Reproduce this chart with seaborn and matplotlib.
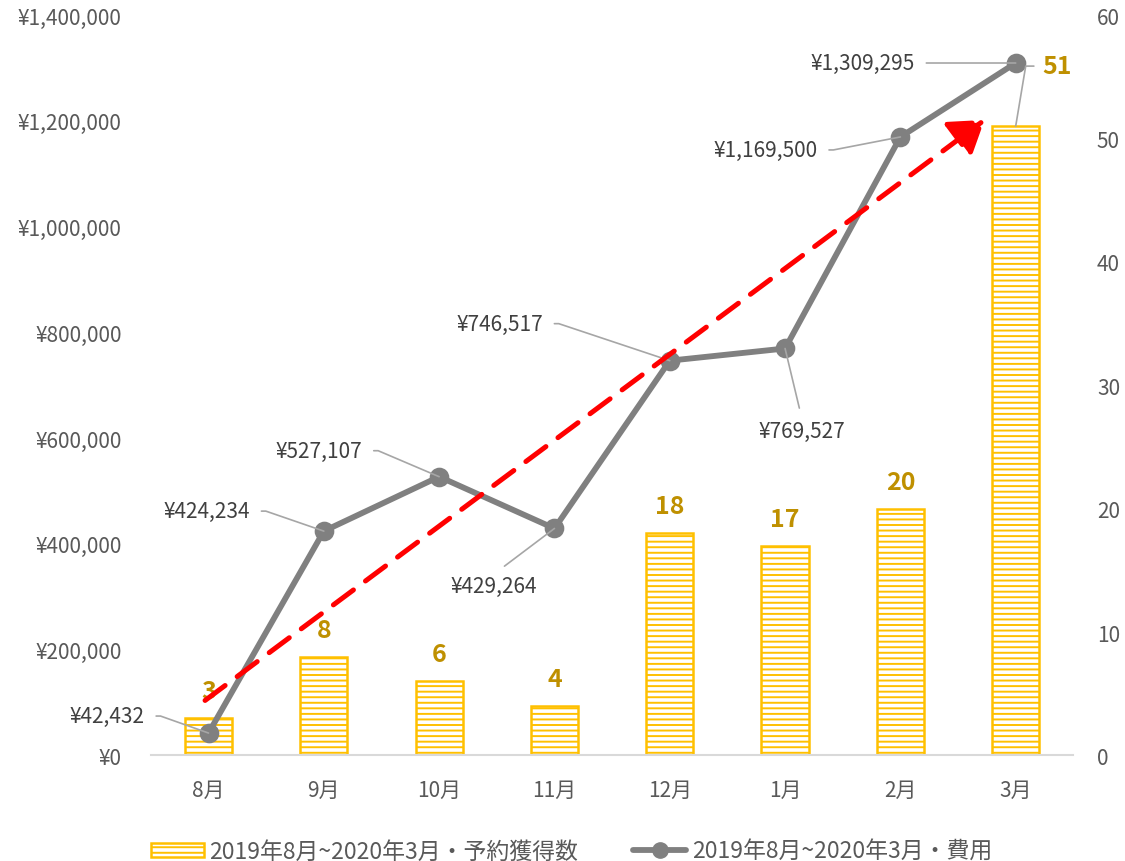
import numpy as np
import pandas as pd
import matplotlib
matplotlib.use("Agg")
import matplotlib.pyplot as plt
from matplotlib.patches import Patch
from matplotlib.lines import Line2D
import seaborn as sns

# data
months = ["8月", "9月", "10月", "11月", "12月", "1月", "2月", "3月"]
bookings = [3, 8, 6, 4, 18, 17, 20, 51]
costs = [42432, 424234, 527107, 429264, 746517, 769527, 1169500, 1309295]
bar_label = "2019年8月~2020年3月・予約獲得数"
line_label = "2019年8月~2020年3月・費用"

df = pd.DataFrame({"month": months, "bookings": bookings, "cost": costs})

sns.set_theme(style="white")
plt.rcParams["font.family"] = ["Noto Sans CJK JP", "DejaVu Sans"]
plt.rcParams["hatch.linewidth"] = 1.4

GOLD = "#FFC000"
LABEL_GOLD = "#BF9000"
GRAY = "#808080"
TEXT = "#595959"
LEADER = "#A6A6A6"
HATCH = "---"

fig = plt.figure(figsize=(11.25, 8.62), dpi=100)
ax = fig.add_axes([0.1341, 0.1224, 0.82, 0.859])
ax2 = ax.twinx()

# bars on the right axis (drawn below the line axis)
sns.barplot(data=df, x="month", y="bookings", ax=ax2, color="white",
            edgecolor=GOLD, linewidth=1.8, width=0.41, saturation=1)
for p in ax2.patches:
    p.set_hatch(HATCH)
    p.set_edgecolor(GOLD)
    p.set_facecolor("white")

# cost line on the left axis
sns.pointplot(data=df, x="month", y="cost", ax=ax, color=GRAY,
              markers="o", markersize=11, linewidth=4.2, errorbar=None)

ax.set_zorder(ax2.get_zorder() + 1)
ax.patch.set_visible(False)

ax.set_ylim(0, 1400000)
ax.set_yticks(np.arange(0, 1400001, 200000))
ax.set_yticklabels([f"¥{v:,}" for v in range(0, 1400001, 200000)])
ax2.set_ylim(0, 60)
ax2.set_yticks(range(0, 61, 10))
ax.set_xlim(-0.5, len(months) - 0.5)
ax.set_xlabel("")
ax.set_ylabel("")
ax2.set_ylabel("")

for a in (ax, ax2):
    for s in a.spines.values():
        s.set_visible(False)
    a.tick_params(length=0, labelsize=15, labelcolor=TEXT)
ax.spines["bottom"].set_visible(True)
ax.spines["bottom"].set_color("#D9D9D9")
ax.spines["bottom"].set_linewidth(1.5)
ax.tick_params(axis="y", pad=21)
ax.tick_params(axis="x", pad=17)
ax2.tick_params(axis="y", pad=17)

# cost labels with leader lines: (dx, dy in pixels, placement)
cost_offsets = [(-64, 17, "right"), (-74, 20, "right"), (-77, 26, "right"),
                (-61, -57, "below"), (-127, 37, "right"), (17, -82, "below"),
                (-83, -13, "right"), (-101, 0, "right")]
for i, (c, (dx, dy, kind)) in enumerate(zip(costs, cost_offsets)):
    if kind == "right":
        ap = dict(arrowstyle="-", color=LEADER, lw=1.2, relpos=(1, 0.5),
                  shrinkA=6, shrinkB=0,
                  connectionstyle="arc,angleA=0,armA=16,angleB=0,armB=0,rad=0")
        ax.annotate(f"¥{c:,}", xy=(i, c), xytext=(dx, dy),
                    textcoords="offset pixels", ha="right", va="center",
                    fontsize=15, color="#404040", arrowprops=ap, zorder=5)
    else:
        ap = dict(arrowstyle="-", color=LEADER, lw=1.2, relpos=(0.5, 1),
                  shrinkA=6, shrinkB=0)
        ax.annotate(f"¥{c:,}", xy=(i, c), xytext=(dx, dy),
                    textcoords="offset pixels", ha="center", va="center",
                    fontsize=15, color="#404040", arrowprops=ap, zorder=5)

# booking labels
for i, b in enumerate(bookings):
    if i == len(bookings) - 1:
        ap = dict(arrowstyle="-", color=LEADER, lw=1.2, relpos=(0, 0.5),
                  shrinkA=4, shrinkB=0,
                  connectionstyle="arc,angleA=180,armA=17,angleB=0,armB=0,rad=0")
        ax.annotate(str(b), xy=(i, b * 1400000 / 60), xytext=(27, 60),
                    textcoords="offset pixels", ha="left", va="center",
                    fontsize=18, fontweight="bold", color=LABEL_GOLD,
                    arrowprops=ap, zorder=3)
    else:
        ax2.annotate(str(b), xy=(i, b), xytext=(0, 27),
                     textcoords="offset pixels", ha="center", va="center",
                     fontsize=18, fontweight="bold", color=LABEL_GOLD)

# red dashed trend arrow (linear fit of the cost series)
pos = np.arange(len(costs))
slope, intercept = np.polyfit(pos, costs, 1)
x0, x1 = -0.03, 6.73
ax.annotate("", xy=(x1, slope * x1 + intercept),
            xytext=(x0, slope * x0 + intercept),
            arrowprops=dict(arrowstyle="-|>,head_length=0.45,head_width=0.3",
                            color="#FF0000", lw=3.6,
                            linestyle=(0, (5, 3)), mutation_scale=45,
                            shrinkA=0, shrinkB=0),
            zorder=10)

handles = [Patch(facecolor="white", edgecolor=GOLD, hatch=HATCH, linewidth=1.8),
           Line2D([], [], color=GRAY, lw=4.2, marker="o", markersize=11)]
fig.legend(handles, [bar_label, line_label], loc="lower center",
           bbox_to_anchor=(0.508, -0.026), ncol=2, frameon=False, fontsize=16.5,
           labelcolor=TEXT, handlelength=2.3, handleheight=0.55,
           columnspacing=2.4, handletextpad=0.25)

plt.savefig("out.png", dpi=100)
